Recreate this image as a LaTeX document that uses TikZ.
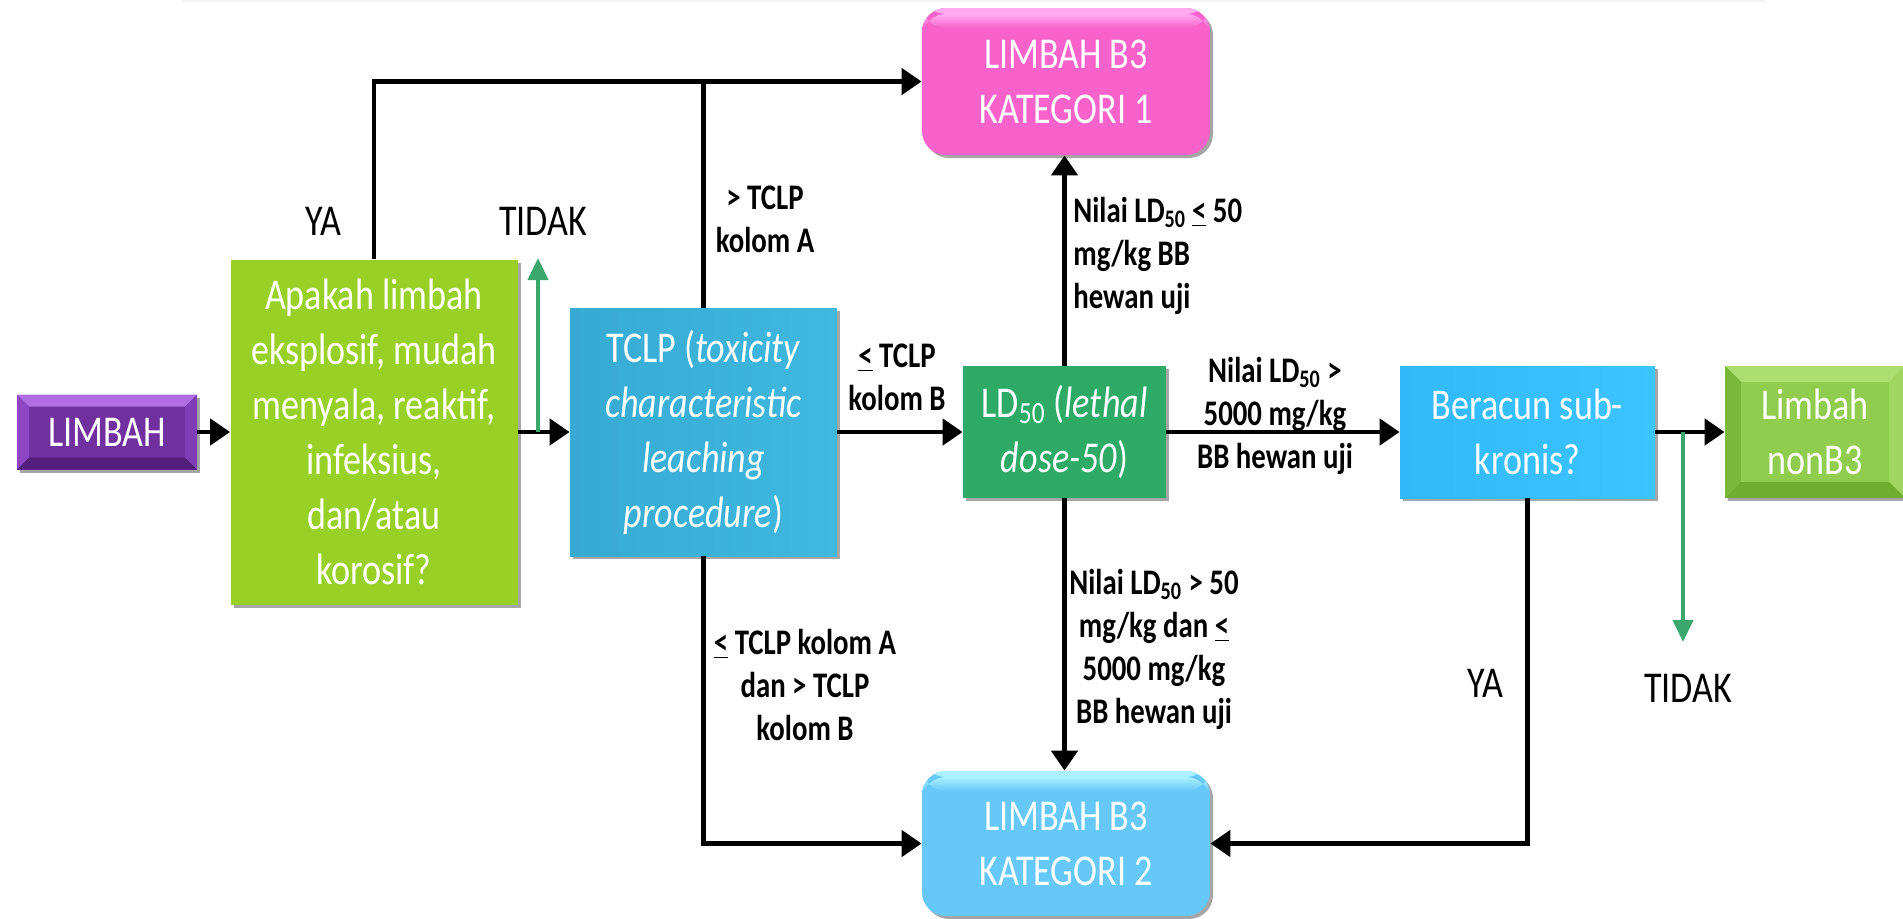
\documentclass[tikz,border=0pt]{standalone}
\usepackage{fontspec}
\usetikzlibrary{arrows.meta,shadows}
\newfontfamily\boxfont{Carlito}[FakeStretch=0.82]
\newfontfamily\labfont{Carlito}[FakeStretch=0.8]
\definecolor{cpurple}{RGB}{112,48,160}
\definecolor{cpurpleT}{RGB}{176,110,226}
\definecolor{cpurpleL}{RGB}{140,72,196}
\definecolor{cpurpleR}{RGB}{128,62,182}
\definecolor{cpurpleB}{RGB}{84,30,124}
\definecolor{cgreenq}{RGB}{152,208,38}
\definecolor{ctclpL}{RGB}{54,170,210}
\definecolor{ctclpR}{RGB}{64,184,224}
\definecolor{cld}{RGB}{44,170,102}
\definecolor{cberL}{RGB}{48,184,250}
\definecolor{cberR}{RGB}{60,196,255}
\definecolor{cnon}{RGB}{144,204,78}
\definecolor{cnonT}{RGB}{172,222,112}
\definecolor{cnonL}{RGB}{122,184,58}
\definecolor{cnonR}{RGB}{160,214,96}
\definecolor{cnonB}{RGB}{112,172,48}
\definecolor{cpink}{RGB}{248,98,202}
\definecolor{cpinkT}{RGB}{255,170,240}
\definecolor{ccat}{RGB}{102,200,248}
\definecolor{ccatT}{RGB}{170,240,255}
\definecolor{cgarrow}{RGB}{58,168,108}
\newcommand\mybevel[5]{%
  \fill[#2] (path picture bounding box.north west) -- (path picture bounding box.north east) -- ([xshift=-#1,yshift=-#1]path picture bounding box.north east) -- ([xshift=#1,yshift=-#1]path picture bounding box.north west) -- cycle;
  \fill[#3] (path picture bounding box.north west) -- ([xshift=#1,yshift=-#1]path picture bounding box.north west) -- ([xshift=#1,yshift=#1]path picture bounding box.south west) -- (path picture bounding box.south west) -- cycle;
  \fill[#4] (path picture bounding box.north east) -- ([xshift=-#1,yshift=-#1]path picture bounding box.north east) -- ([xshift=-#1,yshift=#1]path picture bounding box.south east) -- (path picture bounding box.south east) -- cycle;
  \fill[#5] (path picture bounding box.south west) -- ([xshift=#1,yshift=#1]path picture bounding box.south west) -- ([xshift=-#1,yshift=#1]path picture bounding box.south east) -- (path picture bounding box.south east) -- cycle;
}
\newcommand\myglow[2]{%
  \fill[#1] (path picture bounding box.north west) rectangle ([yshift=-3pt]path picture bounding box.north east);
  \shade[top color=#1,bottom color=#2] ([yshift=-3pt]path picture bounding box.north west) rectangle ([yshift=-10pt]path picture bounding box.north east);
}
\begin{document}
\begin{tikzpicture}[x=0.5pt,y=-0.5pt,
  box/.style={inner sep=0pt, align=center, text=white,
     font=\boxfont\fontsize{22}{27.5}\selectfont,
     drop shadow={shadow xshift=1.5pt,shadow yshift=-1.5pt,opacity=0.35,fill=black}},
  lab/.style={inner sep=0pt, align=center, text=black, font=\labfont\bfseries\fontsize{18}{21.5}\selectfont},
  yn/.style={inner sep=0pt, anchor=base, text=black, font=\boxfont\fontsize{22}{27.5}\selectfont},
  conn/.style={draw=black, line width=2.4pt},
  arr/.style={conn, -{Triangle[length=10pt,width=13pt]}},
  garr/.style={draw=cgarrow, line width=2pt, -{Triangle[length=11pt,width=10pt]}},
]
\path[use as bounding box, fill=white] (0,0) rectangle (1903,918);
\draw[black!5, line width=1pt] (182,1) -- (1766,1);

% boxes
\node[box, fill=cpurple, minimum width=90pt, minimum height=37.5pt,
  path picture={\mybevel{6pt}{cpurpleT}{cpurpleL}{cpurpleR}{cpurpleB}}] (limbah) at (107,432) {LIMBAH};
\node[box, fill=cgreenq, minimum width=143.5pt, minimum height=172.5pt] (q) at (374,432)
  {Apakah limbah\\eksplosif, mudah\\menyala, reaktif,\\infeksius,\\dan/atau\\korosif?};
\node[box, left color=ctclpL, right color=ctclpR, minimum width=133.5pt, minimum height=124pt] (tclp) at (703.5,432)
  {TCLP (\textit{toxicity}\\\textit{characteristic}\\\textit{leaching}\\\textit{procedure})};
\node[box, fill=cld, minimum width=101.5pt, minimum height=66pt] (ld) at (1064.5,432)
  {LD\textsubscript{50} (\textit{lethal}\\\textit{dose-50})};
\node[box, fill=cpink, rounded corners=12pt, minimum width=144pt, minimum height=73.5pt,
  path picture={\myglow{cpinkT}{cpink}}] (kat1) at (1066,81.5) {LIMBAH B3\\KATEGORI 1};
\node[box, fill=ccat, rounded corners=12pt, minimum width=144pt, minimum height=72.5pt,
  path picture={\myglow{ccatT}{ccat}}] (kat2) at (1066,843.5) {LIMBAH B3\\KATEGORI 2};
\node[box, left color=cberL, right color=cberR, minimum width=127.5pt, minimum height=66pt] (ber) at (1527.5,432)
  {Beracun sub-\\kronis?};
\node[box, fill=cnon, minimum width=90pt, minimum height=66pt,
  path picture={\mybevel{8pt}{cnonT}{cnonL}{cnonR}{cnonB}}] (non) at (1815,432) {Limbah\\nonB3};

% labels
\node[yn] (ya1) at (323,235) {YA};
\node[yn] (tidak1) at (543,235) {TIDAK};
\node[lab] (la) at (765,219) {> TCLP\\kolom A};
\node[lab] (lb) at (897,377.5) {\underline{<} TCLP\\kolom B};
\node[lab, align=left, anchor=west] (lk1) at (1073,255.5) {Nilai LD\textsubscript{50}\,\underline{<} 50\\mg/kg BB\\hewan uji};
\node[lab] (ln) at (1275,416) {Nilai LD\textsubscript{50} >\\5000 mg/kg\\BB hewan uji};
\node[lab] (lk2) at (1154,649) {Nilai LD\textsubscript{50} > 50\\mg/kg dan \underline{<}\\5000 mg/kg\\BB hewan uji};
\node[lab] (lc) at (805,685) {\underline{<} TCLP kolom A\\dan > TCLP\\kolom B};
\node[yn] (ya2) at (1485,697) {YA};
\node[yn] (tidak2) at (1688,702) {TIDAK};

% connectors
\draw[arr] (limbah) -- (q);
\draw[arr] (q) -- (tclp);
\draw[arr] (q.north) |- (kat1.west);
\draw[conn] (tclp.north) -- (tclp.north |- kat1.west);
\draw[arr] (tclp) -- (ld);
\draw[arr] (ld.north) -- (ld.north |- kat1.south);
\draw[arr] (ld.south) -- (ld.south |- kat2.north);
\draw[arr] (ld) -- (ber);
\draw[arr] (ber) -- (non);
\draw[arr] (tclp.south) |- (kat2.west);
\draw[arr] (ber.south) |- (kat2.east);
\coordinate (g1a) at (538,432);
\coordinate (g1b) at (538,258);
\draw[garr] (g1a) -- (g1b);
\coordinate (g2a) at (1683,432);
\coordinate (g2b) at (1683,642);
\draw[garr] (g2a) -- (g2b);
\end{tikzpicture}
\end{document}
